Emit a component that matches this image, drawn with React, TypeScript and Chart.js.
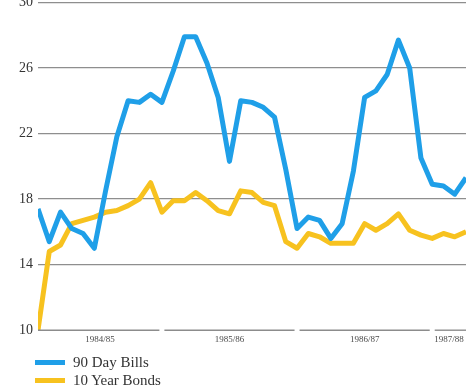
import React, { useEffect, useRef } from "react";
import { Chart, registerables } from "chart.js";

Chart.register(...registerables);

// Monthly observations, Aug 1984 – Oct 1987
const monthLabels = [
  "Aug 1984", "Sep 1984", "Oct 1984", "Nov 1984", "Dec 1984",
  "Jan 1985", "Feb 1985", "Mar 1985", "Apr 1985", "May 1985", "Jun 1985",
  "Jul 1985", "Aug 1985", "Sep 1985", "Oct 1985", "Nov 1985", "Dec 1985",
  "Jan 1986", "Feb 1986", "Mar 1986", "Apr 1986", "May 1986", "Jun 1986",
  "Jul 1986", "Aug 1986", "Sep 1986", "Oct 1986", "Nov 1986", "Dec 1986",
  "Jan 1987", "Feb 1987", "Mar 1987", "Apr 1987", "May 1987", "Jun 1987",
  "Jul 1987", "Aug 1987", "Sep 1987", "Oct 1987",
];

// Interest rates, per cent
const dayBills90 = [
  17.4, 15.4, 17.2, 16.2, 15.9, 15.0, 18.5, 21.8, 24.0, 23.9, 24.4, 23.9,
  25.8, 27.9, 27.9, 26.3, 24.2, 20.3, 24.0, 23.9, 23.6, 23.0, 19.8, 16.2,
  16.9, 16.7, 15.6, 16.5, 19.7, 24.2, 24.6, 25.6, 27.7, 26.0, 20.5, 18.9,
  18.8, 18.3, 19.3,
];
const yearBonds10 = [
  10.0, 14.8, 15.2, 16.5, 16.7, 16.9, 17.2, 17.3, 17.6, 18.0, 19.0, 17.2,
  17.9, 17.9, 18.4, 17.9, 17.3, 17.1, 18.5, 18.4, 17.8, 17.6, 15.4, 15.0,
  15.9, 15.7, 15.3, 15.3, 15.3, 16.5, 16.1, 16.5, 17.1, 16.1, 15.8, 15.6,
  15.9, 15.7, 16.0,
];

// Financial years (July – June)
const fiscalYears = ["1984/85", "1985/86", "1986/87", "1987/88"];
const yTicks = [10, 14, 18, 22, 26, 30];

const seriesNames = ["90 Day Bills", "10 Year Bonds"];
const seriesColors = ["#1f9fe8", "#f7c21f"];

const SERIF = "'Liberation Serif', 'DejaVu Serif', serif";

function fiscalYearOf(label: string): string {
  const [mon, yr] = label.split(" ");
  const y = Number(yr);
  const m = new Date(`${mon} 1, ${yr}`).getMonth();
  const start = m >= 6 ? y : y - 1;
  return `${start}/${String((start + 1) % 100).padStart(2, "0")}`;
}

// Index span of each financial year along the month axis
function fiscalSegments() {
  const last = monthLabels.length - 1;
  return fiscalYears.map((fy) => {
    const first = monthLabels.findIndex((l) => fiscalYearOf(l) === fy);
    const nextIdx = monthLabels.findIndex(
      (l, i) => i > first && fiscalYearOf(l) !== fy
    );
    return { label: fy, start: first, end: nextIdx === -1 ? last : nextIdx };
  });
}

export default function App() {
  const canvasRef = useRef<HTMLCanvasElement | null>(null);

  useEffect(() => {
    if (!canvasRef.current) return;
    const segments = fiscalSegments();
    const centers = segments.map((s) => (s.start + s.end) / 2);
    const lastIndex = monthLabels.length - 1;

    // Bottom axis drawn as one rule per financial year, with small breaks
    const segmentedAxis = {
      id: "segmentedAxis",
      afterDatasetsDraw(chart: any) {
        const { ctx, chartArea, scales } = chart;
        const xs = scales.x;
        const y = chartArea.bottom;
        ctx.save();
        ctx.strokeStyle = "#8c8c8c";
        ctx.lineWidth = 1.4;
        segments.forEach((s) => {
          const x0 = xs.getPixelForValue(s.start) + (s.start > 0 ? 2.5 : 0);
          const x1 = xs.getPixelForValue(s.end) - (s.end < lastIndex ? 2.5 : 0);
          ctx.beginPath();
          ctx.moveTo(x0, y);
          ctx.lineTo(x1, y);
          ctx.stroke();
        });
        ctx.restore();
      },
    };

    const series = [dayBills90, yearBonds10];
    const chart = new Chart(canvasRef.current, {
      type: "line",
      data: {
        datasets: series.map((vals, k) => ({
          label: seriesNames[k],
          data: vals.map((v, i) => ({ x: i, y: v })),
          borderColor: seriesColors[k],
          backgroundColor: seriesColors[k],
          borderWidth: 5,
          pointRadius: 0,
          tension: 0,
          borderJoinStyle: "round" as const,
          borderCapStyle: "butt" as const,
        })),
      },
      options: {
        animation: false,
        responsive: false,
        maintainAspectRatio: false,
        layout: { padding: { top: 0, right: 10, bottom: 46, left: 0 } },
        plugins: {
          legend: { display: false },
          tooltip: { enabled: false },
        },
        scales: {
          x: {
            type: "linear",
            min: 0,
            max: lastIndex,
            grid: { display: false, drawTicks: false },
            border: { display: false },
            afterBuildTicks(scale: any) {
              scale.ticks = centers.map((v) => ({ value: v }));
            },
            ticks: {
              autoSkip: false,
              maxRotation: 0,
              padding: 4,
              color: "#4a4a4a",
              font: { family: SERIF, size: 9 },
              callback: (_v: any, i: number) => fiscalYears[i],
            },
          },
          y: {
            min: 10,
            max: 30,
            afterBuildTicks(scale: any) {
              scale.ticks = yTicks.map((v) => ({ value: v }));
            },
            afterFit(scale: any) {
              scale.width = 38;
            },
            grid: {
              drawTicks: false,
              lineWidth: 1.3,
              color: (c: any) =>
                c.tick && c.tick.value === 10 ? "rgba(0,0,0,0)" : "#8e8e8e",
            },
            border: { display: false },
            ticks: {
              padding: 5,
              color: "#333333",
              font: { family: SERIF, size: 14 },
            },
          },
        },
      },
      plugins: [segmentedAxis],
    });
    return () => chart.destroy();
  }, []);

  return (
    <div
      style={{
        position: "absolute",
        left: 0,
        top: 0,
        width: 476,
        height: 390,
        overflow: "hidden",
        background: "#ffffff",
      }}
    >
      <div style={{ position: "absolute", left: 0, top: -11, width: 476, height: 406 }}>
        <canvas ref={canvasRef} width={476} height={406} />
      </div>
      {seriesNames.map((name, k) => (
        <div
          key={name}
          style={{
            position: "absolute",
            left: 35,
            top: 353 + k * 18,
            height: 18,
            display: "flex",
            alignItems: "center",
            fontFamily: SERIF,
            fontSize: 15,
            color: "#333333",
          }}
        >
          <span
            style={{
              display: "inline-block",
              width: 30,
              height: 5,
              background: seriesColors[k],
              marginRight: 8,
            }}
          />
          <span>{name}</span>
        </div>
      ))}
    </div>
  );
}
